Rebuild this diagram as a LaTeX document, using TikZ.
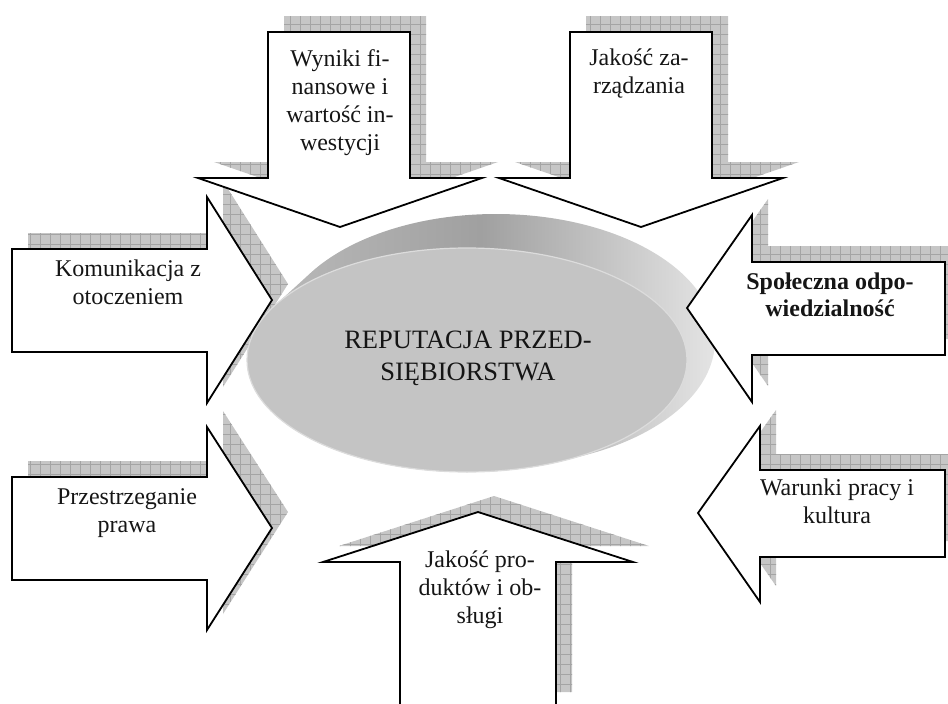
\documentclass[tikz,border=0pt]{standalone}
\usepackage{fontspec}
\setmainfont{Liberation Serif}
\usetikzlibrary{calc,patterns.meta}

\definecolor{facegray}{HTML}{C4C4C4}
\definecolor{rimleft}{HTML}{BCBCBC}
\definecolor{rimdark}{HTML}{A0A0A0}
\definecolor{rimlight}{HTML}{E4E4E4}
\definecolor{shadowgray}{HTML}{C6C6C6}
\definecolor{gridgray}{HTML}{A4A4A4}
\definecolor{textgray}{HTML}{151515}

\tikzset{
  blockarrow/.style={draw=black, fill=white, line width=1.8pt},
  shadowbox/.style={fill=shadowgray, postaction={pattern={Hatch[angle=0,distance=10pt,line width=0.5pt]}, pattern color=gridgray}},
  arrowtext/.style={anchor=north, inner sep=0pt, align=center, text=textgray, font=\fontsize{24}{28}\selectfont},
  centertext/.style={anchor=north, inner sep=0pt, align=center, text=textgray, font=\fontsize{26.5}{32}\selectfont}
}

% outlines of the block arrows (pixel coordinates, y downwards)
\newcommand{\pathwyniki}{(268,32) -- (410,32) -- (410,178) -- (482,178) -- (340,227) -- (198,178) -- (268,178) -- cycle}
\newcommand{\pathzarzadzanie}{(570,32) -- (712,32) -- (712,178) -- (783,178) -- (641,227) -- (499,178) -- (570,178) -- cycle}
\newcommand{\pathkomunikacja}{(12,249) -- (207,249) -- (207,197) -- (272,300) -- (207,403) -- (207,352) -- (12,352) -- cycle}
\newcommand{\pathspoleczna}{(945,262) -- (752,262) -- (752,215) -- (687,308) -- (752,402) -- (752,355) -- (945,355) -- cycle}
\newcommand{\pathprawo}{(12,477) -- (207,477) -- (207,427) -- (272,528) -- (207,630) -- (207,580) -- (12,580) -- cycle}
\newcommand{\pathwarunki}{(945,470) -- (760,470) -- (760,426) -- (698,513) -- (760,602) -- (760,557) -- (945,557) -- cycle}
\newcommand{\pathprodukty}{(400,708) -- (400,562) -- (323,562) -- (478,512) -- (633,562) -- (556,562) -- (556,708) -- cycle}

\begin{document}
\begin{tikzpicture}[x=1pt,y=-1pt]
  \useasboundingbox (0,0) rectangle (948,704);
  % shadows
  \fill[shadowbox, shift={(16,-16)}] \pathwyniki;
  \fill[shadowbox, shift={(16,-16)}] \pathzarzadzanie;
  \fill[shadowbox, shift={(16,-16)}] \pathkomunikacja;
  \fill[shadowbox, shift={(16,-16)}] \pathspoleczna;
  \fill[shadowbox, shift={(16,-16)}] \pathprawo;
  \fill[shadowbox, shift={(16,-16)}] \pathwarunki;
  \fill[shadowbox, shift={(16,-16)}] \pathprodukty;

  % the disc in the middle
  \coordinate (face) at (467,360);
  \coordinate (back) at (496,340);
  \shade[left color=rimleft, right color=rimlight, middle color=rimdark]
    foreach \t in {0,0.05,...,1.01} {($(face)!\t!(back)$) ellipse [x radius={220-\t}, y radius={112+14*\t}]};
  \filldraw[fill=facegray, draw=facegray!60!white, line width=1.2pt] (face) ellipse [x radius=220, y radius=112];
  \node[centertext] (reputacja) at (468,331) {REPUTACJA PRZED-\\SIĘBIORSTWA};

  % arrows
  \draw[blockarrow] \pathwyniki;
  \draw[blockarrow] \pathzarzadzanie;
  \draw[blockarrow] \pathkomunikacja;
  \draw[blockarrow] \pathspoleczna;
  \draw[blockarrow] \pathprawo;
  \draw[blockarrow] \pathwarunki;
  \draw[blockarrow] \pathprodukty;

  \node[arrowtext] (wyniki) at (340,49) {Wyniki fi-\\nansowe i\\wartość in-\\westycji};
  \node[arrowtext] (zarzadzanie) at (639,49) {Jakość za-\\rządzania};
  \node[arrowtext] (komunikacja) at (128,260) {Komunikacja z\\otoczeniem};
  \node[arrowtext, font=\fontsize{24}{27}\selectfont\bfseries] (spoleczna) at (830,273) {Społeczna odpo-\\wiedzialność};
  \node[arrowtext] (prawo) at (127,488) {Przestrzeganie\\prawa};
  \node[arrowtext] (warunki) at (837,479) {Warunki pracy i\\kultura};
  \node[arrowtext] (produkty) at (480,551) {Jakość pro-\\duktów i ob-\\sługi};
\end{tikzpicture}
\end{document}
